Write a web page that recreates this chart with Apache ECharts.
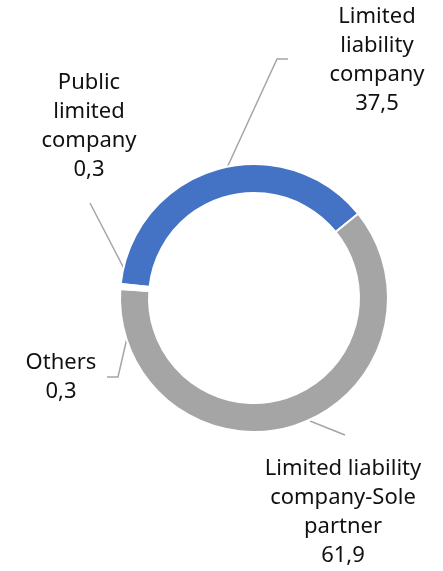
<!DOCTYPE html>
<html>
<head>
<meta charset="utf-8">
<script src="https://cdn.jsdelivr.net/npm/echarts@6/dist/echarts.min.js"></script>
<style>
  html, body { margin: 0; padding: 0; background: #fff; }
  #chart { width: 443px; height: 571px; }
</style>
</head>
<body>
<div id="chart"></div>
<script>
// data
const categories = ['Limited liability company', 'Limited liability company-Sole partner', 'Others', 'Public limited company']
const labelTexts = ['Limited\nliability\ncompany', 'Limited liability\ncompany-Sole\npartner', 'Others', 'Public\nlimited\ncompany']
const values = [37.5, 61.9, 0.3, 0.3]

const colors = ['#4472C4', '#A5A5A5', '#ffffff', '#ffffff']

// where Excel put each label (block centre) and its leader line
const labelPos = [
  { x: 377, y: 60, line: [[220, 183], [277, 59], [288, 59]] },
  { x: 343, y: 512, line: [[310, 421], [345, 435], [345, 435]] },
  { x: 61, y: 377, line: [[127, 338], [118, 377], [107, 377]] },
  { x: 89, y: 126, line: [[134, 293], [133, 286], [90, 203]] }
]

const chart = echarts.init(document.getElementById('chart'))

chart.setOption({
  animation: false,
  backgroundColor: '#fff',
  series: [{
    type: 'pie',
    center: [254, 298],
    radius: [105, 134],
    startAngle: 174,
    clockwise: true,
    avoidLabelOverlap: false,
    emphasis: { disabled: true },
    itemStyle: { borderColor: '#fff', borderWidth: 2 },
    data: categories.map((c, i) => ({
      name: c,
      value: values[i],
      itemStyle: { color: colors[i] }
    })),
    label: {
      show: true,
      position: 'outside',
      color: '#111',
      fontFamily: 'Noto Sans',
      fontSize: 22,
      lineHeight: 29,
      align: 'center',
      formatter: p => labelTexts[p.dataIndex] + '\n' + String(p.value).replace('.', ',')
    },
    labelLine: {
      show: true,
      lineStyle: { color: '#A5A5A5', width: 1.5 }
    },
    labelLayout: p => {
      const l = labelPos[p.dataIndex]
      return {
        x: l.x,
        y: l.y,
        align: 'center',
        verticalAlign: 'middle',
        labelLinePoints: l.line
      }
    }
  }]
})
</script>
</body>
</html>
